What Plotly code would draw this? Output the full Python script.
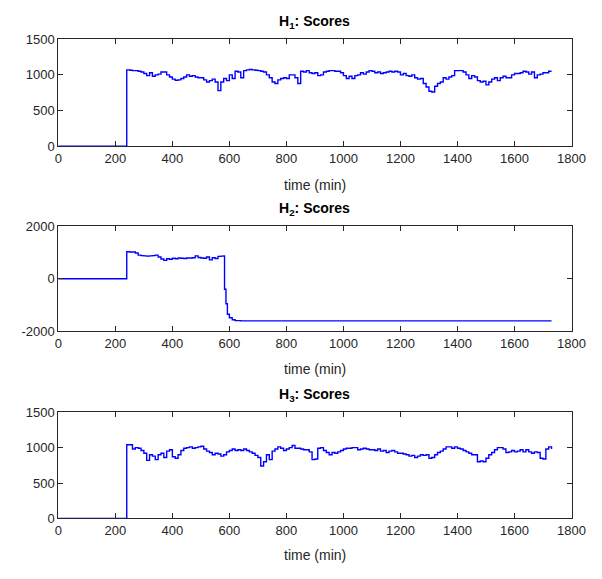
import plotly.graph_objects as go

W, H = 602, 579

# ---- data ----
h1_vals = [1070, 1065, 1060, 1060, 1050, 1040, 1020, 990, 1030, 980, 1000, 1010, 1040, 1040, 1000, 970,
           940, 925, 930, 950, 970, 1000, 980, 990, 970, 960, 960, 930, 900, 920, 940, 900, 780, 900,
           950, 920, 1000, 950, 1050, 1040, 960, 1060, 1070, 1075, 1070, 1065, 1060, 1050, 1040, 1000,
           960, 900, 880, 930, 950, 960, 950, 1000, 1000, 960, 880, 1050, 1040, 1060, 1030, 1020, 1030,
           990, 1000, 1040, 1050, 1060, 1060, 1050, 1050, 1030, 990, 950, 980, 950, 990, 1000, 1030,
           1010, 1040, 1060, 1050, 1030, 1040, 1020, 1030, 1040, 1050, 1040, 1050, 1040, 1000, 1020,
           990, 980, 1000, 960, 940, 950, 880, 830, 770, 760, 840, 880, 900, 960, 940, 970, 990, 1060,
           1060, 1060, 1040, 1000, 950, 990, 970, 920, 900, 910, 860, 900, 940, 960, 920, 960, 980,
           960, 960, 1000, 1020, 1020, 1030, 1050, 1040, 1010, 1040, 960, 1000, 1010, 1030, 1030, 1050,
           1050]
h1_time = [0] + list(range(240, 240 + 10 * len(h1_vals), 10))
h1_vals = [0] + h1_vals

h2_time = [0, 240, 250, 260, 270, 280, 290, 300, 310, 320, 330, 340, 350, 360, 370, 380, 390, 400,
           410, 420, 430, 440, 450, 460, 470, 480, 490, 500, 510, 520, 530, 540, 550, 560, 570, 580,
           583, 588, 593, 600, 610, 620, 640, 1730]
h2_vals = [0, 1030, 1020, 1020, 980, 900, 880, 870, 860, 870, 880, 900, 830, 750, 700, 760, 740, 780,
           760, 790, 780, 770, 790, 790, 800, 870, 810, 790, 780, 830, 720, 800, 770, 850, 860, 870,
           -400, -950, -1350, -1480, -1560, -1590, -1600, -1600]

h3_vals = [1040, 1040, 980, 1000, 990, 960, 920, 820, 900, 880, 830, 900, 920, 860, 950, 970, 870,
           850, 900, 960, 990, 1000, 1010, 990, 1000, 1010, 1020, 980, 950, 930, 900, 920, 910, 880,
           900, 940, 960, 980, 960, 970, 960, 980, 960, 940, 920, 890, 860, 740, 800, 900, 830, 950,
           980, 1010, 990, 960, 980, 1000, 1030, 990, 990, 980, 970, 970, 940, 830, 840, 990, 1000,
           960, 930, 900, 930, 920, 940, 960, 980, 990, 990, 1000, 1000, 970, 980, 990, 980, 970, 970,
           960, 980, 950, 960, 930, 950, 960, 940, 920, 920, 910, 900, 880, 890, 860, 880, 900, 890,
           900, 850, 860, 900, 930, 950, 980, 1010, 1010, 990, 1010, 990, 980, 960, 940, 920, 900, 900,
           800, 810, 800, 850, 900, 930, 970, 1000, 1000, 980, 930, 940, 960, 940, 950, 970, 940, 970,
           940, 920, 940, 930, 850, 840, 980, 1010, 980]
h3_time = [0] + list(range(240, 240 + 10 * len(h3_vals), 10))
h3_vals = [0] + h3_vals

titles = ["H<sub>1</sub>: Scores", "H<sub>2</sub>: Scores", "H<sub>3</sub>: Scores"]
xlabel = "time (min)"
x_ticks = [0, 200, 400, 600, 800, 1000, 1200, 1400, 1600, 1800]
y_ticks = [[0, 500, 1000, 1500], [-2000, 0, 2000], [0, 500, 1000, 1500]]
y_ticklabels = [["0", "500", "1000", "1500"], ["-2000", "0", "2000"], ["0", "500", "1000", "1500"]]
y_ranges = [[0, 1500], [-2000, 2000], [0, 1500]]

# ---- layout in pixels ----
left, right = 56, 585
panels = [(33, 143), (225, 333), (416, 525)]  # top, bottom pixel
title_y = [15, 207, 398]
xlab_y = [183, 372, 563]

def py(p):
    return 1 - p / H

fig = go.Figure()
series = [(h1_time, h1_vals), (h2_time, h2_vals), (h3_time, h3_vals)]
font_family = "Liberation Sans, Arial, sans-serif"
layout = dict(
    width=W, height=H, margin=dict(l=0, r=0, t=0, b=0),
    paper_bgcolor="white", plot_bgcolor="white", showlegend=False,
    font=dict(family=font_family, size=13, color="#262626"),
)
annotations = []
for i, (t, v) in enumerate(series):
    n = "" if i == 0 else str(i + 1)
    fig.add_trace(go.Scatter(x=t, y=v, mode="lines", line=dict(color="#0000FF", width=1.4, shape="hv"),
                             xaxis="x" + n, yaxis="y" + n))
    top, bot = panels[i]
    layout["xaxis" + n] = dict(
        domain=[left / W, right / W], range=[0, 1800], tickvals=x_ticks,
        showgrid=False, zeroline=False, showline=True, linecolor="#262626", linewidth=1,
        mirror="ticks", ticks="inside", ticklen=5, tickcolor="#262626",
        anchor="y" + n, tickfont=dict(size=13, color="#262626"),
    )
    layout["yaxis" + n] = dict(
        domain=[py(bot), py(top)], range=y_ranges[i], tickvals=y_ticks[i], ticktext=y_ticklabels[i],
        showgrid=False, zeroline=False, showline=True, linecolor="#262626", linewidth=1,
        mirror="ticks", ticks="inside", ticklen=5, tickcolor="#262626",
        anchor="x" + n, tickfont=dict(size=13, color="#262626"),
    )
    annotations.append(dict(text="<b>" + titles[i] + "</b>", xref="paper", yref="paper",
                            x=(left + right) / 2 / W, y=py(title_y[i]), xanchor="center", yanchor="middle",
                            showarrow=False, font=dict(size=14, color="black", family=font_family)))
    annotations.append(dict(text=xlabel, xref="paper", yref="paper",
                            x=(left + right) / 2 / W, y=py(xlab_y[i]), xanchor="center", yanchor="middle",
                            showarrow=False, font=dict(size=14, color="#262626", family=font_family)))
layout["annotations"] = annotations
fig.update_layout(**layout)
fig.write_html("out.html", config={"displayModeBar": False},
               post_script="document.body.style.margin='0px';")
